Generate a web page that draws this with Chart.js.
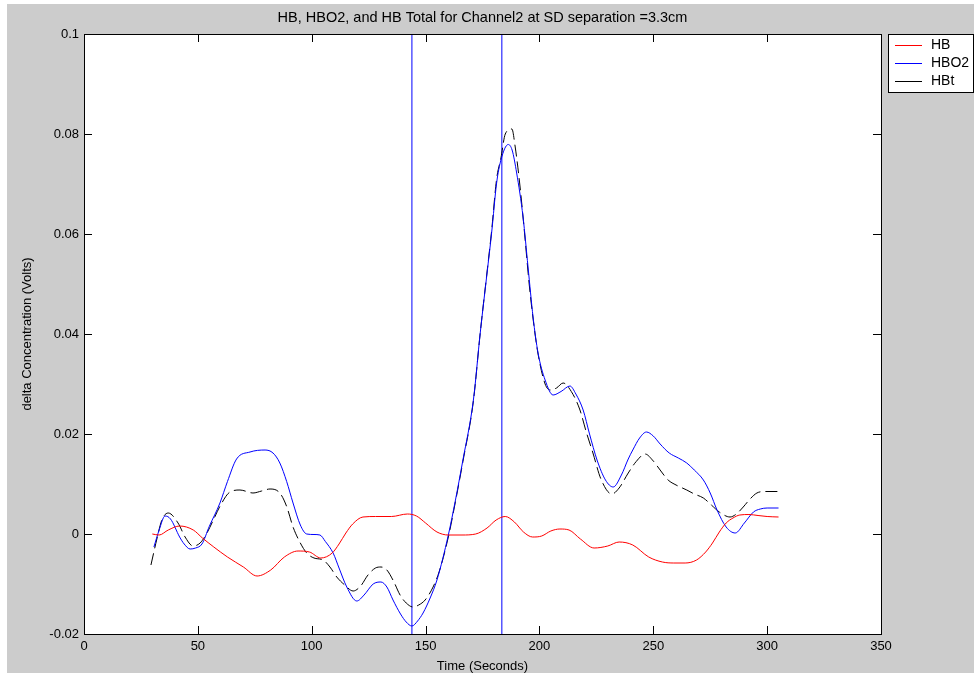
<!DOCTYPE html>
<html>
<head>
<meta charset="utf-8">
<script src="https://cdn.jsdelivr.net/npm/chart.js@4/dist/chart.umd.min.js"></script>
<style>
  body { margin: 0; background: #ffffff; }
  #wrap { width: 974px; height: 673px; }
</style>
</head>
<body>
<div id="wrap"><canvas id="chart" width="974" height="673"></canvas></div>
<script>
// HB (red)
const hbTime = [30, 33, 37, 42, 48, 52, 57, 63, 70, 76, 82, 88, 94, 99, 104, 109, 112, 115, 118, 122.5, 128, 135, 142, 146, 150, 155, 160, 166, 172, 177, 181, 185, 189, 193, 197, 201, 205, 209, 213, 218, 224, 230, 235, 241, 248, 254, 259, 264, 269, 273, 276, 279, 282, 285, 288, 292, 296, 300, 305];
const hbValues = [0.0, -0.0002, 0.0008, 0.0016, 0.0008, -0.0008, -0.0026, -0.0046, -0.0066, -0.0084, -0.0072, -0.0046, -0.0034, -0.0036, -0.0048, -0.0038, -0.0020, 0.0002, 0.0020, 0.0034, 0.0035, 0.0035, 0.0040, 0.0036, 0.0022, 0.0004, -0.0002, -0.0002, 0.0000, 0.0012, 0.0028, 0.0035, 0.0024, 0.0004, -0.0006, -0.0004, 0.0006, 0.0010, 0.0008, -0.0010, -0.0028, -0.0024, -0.0016, -0.0022, -0.0046, -0.0056, -0.0058, -0.0058, -0.0052, -0.0036, -0.0018, 0.0004, 0.0022, 0.0032, 0.0038, 0.0039, 0.0037, 0.0035, 0.0034];

// HBO2 (blue)
const hbo2Time = [30.7, 33, 35.6, 38, 42, 44, 46.6, 49, 51.8, 55, 59.7, 63, 67, 72.9, 79.5, 83, 86, 89, 91.8, 95, 97.8, 101, 103.6, 106, 109.4, 112, 115.4, 119.8, 123, 127, 130.4, 133, 135.7, 139, 141.5, 144, 146.5, 148.9, 152, 155, 160, 163, 166.4, 171, 174, 177, 179, 181.2, 183.1, 186.3, 188, 190, 192.8, 195, 197.2, 199.4, 202.5, 206, 209.5, 213.4, 216, 219.2, 222, 225.3, 229, 232.4, 236, 239, 241, 244, 247, 250, 253, 257, 261, 264.7, 268, 272, 275, 278, 282, 286, 290, 294, 297, 300, 305];
const hbo2Values = [-0.0026, 0.0008, 0.0036, 0.0030, -0.0006, -0.0020, -0.0030, -0.0028, -0.0020, 0.0015, 0.0062, 0.0105, 0.0150, 0.0164, 0.0168, 0.0162, 0.0142, 0.0105, 0.0062, 0.0018, 0.0000, -0.0001, -0.0002, -0.0015, -0.0038, -0.0068, -0.0106, -0.0134, -0.0122, -0.0100, -0.0096, -0.0106, -0.0132, -0.0160, -0.0176, -0.0184, -0.0174, -0.0158, -0.0128, -0.0092, -0.0002, 0.0065, 0.0148, 0.0268, 0.0402, 0.0522, 0.0602, 0.0702, 0.0748, 0.0779, 0.0768, 0.0722, 0.0634, 0.0534, 0.0434, 0.0362, 0.0308, 0.0278, 0.0285, 0.0296, 0.0280, 0.0248, 0.0200, 0.0148, 0.0108, 0.0094, 0.0118, 0.0150, 0.0168, 0.0192, 0.0204, 0.0196, 0.0180, 0.0162, 0.0152, 0.0142, 0.0128, 0.0108, 0.0082, 0.0048, 0.0014, 0.0002, 0.0022, 0.0044, 0.0050, 0.0052, 0.0052];

// HBt (black dashed)
const hbtTime = [29.4, 32, 34.2, 37, 41.3, 44.4, 47.9, 51, 54, 56.8, 60, 64.1, 68.5, 74.2, 78, 81.7, 86, 89, 91.8, 95, 97.8, 101, 105, 108, 111, 114.5, 118.2, 121.5, 124.7, 128, 130.4, 133, 136, 138.8, 141.5, 144.5, 147, 149.8, 153.3, 156, 160, 163, 166.4, 171, 174, 177, 179, 181.2, 183.1, 185, 187.9, 189.3, 191.5, 193.5, 195.5, 197.5, 199.4, 202.5, 204.7, 207.5, 210.4, 214, 217.8, 220.5, 223.5, 227, 231.8, 235, 239, 242.5, 246.4, 250, 253, 256.5, 260, 264.7, 268, 272, 275.5, 279, 283.7, 286.5, 289.5, 292.5, 295.5, 299, 305];
const hbtValues = [-0.0062, -0.0010, 0.0028, 0.0042, 0.0022, -0.0006, -0.0024, -0.0018, 0.0002, 0.0028, 0.0058, 0.0084, 0.0088, 0.0082, 0.0086, 0.0090, 0.0082, 0.0055, 0.0014, -0.0018, -0.0038, -0.0048, -0.0052, -0.0066, -0.0086, -0.0102, -0.0114, -0.0104, -0.0082, -0.0068, -0.0066, -0.0072, -0.0095, -0.0122, -0.0138, -0.0146, -0.0142, -0.0132, -0.0106, -0.0075, -0.0006, 0.0062, 0.0145, 0.0266, 0.0402, 0.0524, 0.0606, 0.0710, 0.0752, 0.0800, 0.0810, 0.0776, 0.0694, 0.0600, 0.0500, 0.0420, 0.0360, 0.0300, 0.0288, 0.0292, 0.0302, 0.0285, 0.0248, 0.0205, 0.0162, 0.0110, 0.0080, 0.0092, 0.0122, 0.0145, 0.0160, 0.0146, 0.0128, 0.0108, 0.0098, 0.0088, 0.0080, 0.0072, 0.0058, 0.0044, 0.0034, 0.0040, 0.0054, 0.0070, 0.0082, 0.0085, 0.0085];

// vertical marker lines
const markerTimes = [144, 183.5];

const xTicks = [0, 50, 100, 150, 200, 250, 300, 350];
const yTicks = [-0.02, 0, 0.02, 0.04, 0.06, 0.08, 0.1];

const legendNames = ["HB", "HBO2", "HBt"];
const legendColors = ["#ff0000", "#0000ff", "#000000"];

const chartTitle = "HB, HBO2, and HB Total for Channel2 at SD separation =3.3cm";

function toPoints(xs, ys) {
  return xs.map((x, i) => ({ x: x, y: ys[i] }));
}

const FONT = "'Liberation Sans', Arial, sans-serif";

const datasets = [
  { label: "HB", data: toPoints(hbTime, hbValues), borderColor: "#ff0000", borderWidth: 1, cubicInterpolationMode: "monotone" },
  { label: "HBO2", data: toPoints(hbo2Time, hbo2Values), borderColor: "#0000ff", borderWidth: 1, cubicInterpolationMode: "monotone" },
  { label: "HBt", data: toPoints(hbtTime, hbtValues), borderColor: "#000000", borderWidth: 1, borderDash: [12, 5], cubicInterpolationMode: "monotone" }
];
markerTimes.forEach(t => {
  datasets.push({ label: "marker", data: [{ x: t, y: yTicks[0] }, { x: t, y: yTicks[yTicks.length - 1] }], borderColor: "#0000ff", borderWidth: 1, tension: 0 });
});

//draws the gray figure, title over the axes, inward ticks, axes box and legend
const matlabFrame = {
  id: "matlabFrame",
  beforeDraw(chart) {
    const { ctx, chartArea: a } = chart;
    ctx.save();
    ctx.fillStyle = "#ffffff";
    ctx.fillRect(0, 0, chart.width, chart.height);
    ctx.fillStyle = "#cccccc";
    ctx.fillRect(7, 4, chart.width, chart.height);
    ctx.fillStyle = "#ffffff";
    ctx.fillRect(a.left, a.top, a.right - a.left, a.bottom - a.top);
    ctx.restore();
  },
  afterDraw(chart) {
    const { ctx, chartArea: a, scales } = chart;
    ctx.save();
    ctx.setLineDash([]);
    ctx.strokeStyle = "#000000";
    ctx.lineWidth = 1;
    ctx.beginPath();
    xTicks.forEach(v => {
      const px = Math.round(scales.x.getPixelForValue(v)) + 0.5;
      ctx.moveTo(px, a.bottom); ctx.lineTo(px, a.bottom - 8);
      ctx.moveTo(px, a.top); ctx.lineTo(px, a.top + 8);
    });
    yTicks.forEach(v => {
      const py = Math.round(scales.y.getPixelForValue(v)) + 0.5;
      ctx.moveTo(a.left, py); ctx.lineTo(a.left + 8, py);
      ctx.moveTo(a.right, py); ctx.lineTo(a.right - 8, py);
    });
    ctx.stroke();
    ctx.strokeRect(a.left + 0.5, a.top + 0.5, a.right - a.left, a.bottom - a.top);

    // title centred over the axes
    ctx.fillStyle = "#000000";
    ctx.font = "14.5px " + FONT;
    ctx.textAlign = "center";
    ctx.textBaseline = "middle";
    ctx.fillText(chartTitle, (a.left + a.right) / 2, 18);

    // legend box
    const lx = 888, ly = 34, lw = 85, lh = 58;
    ctx.fillStyle = "#ffffff";
    ctx.fillRect(lx, ly, lw, lh);
    ctx.strokeRect(lx + 0.5, ly + 0.5, lw, lh);
    ctx.font = "14px " + FONT;
    ctx.textAlign = "left";
    for (let i = 0; i < legendNames.length; i++) {
      const y = ly + 11 + i * 18;
      ctx.fillStyle = legendColors[i];
      ctx.fillRect(895, y, 27, 1);
      ctx.fillStyle = "#000000";
      ctx.fillText(legendNames[i], 931, y + 0.5);
    }
    ctx.restore();
  }
};

new Chart(document.getElementById("chart"), {
  type: "line",
  data: { datasets: datasets },
  options: {
    responsive: false,
    animation: false,
    layout: { padding: { top: 34, right: 93, bottom: 0, left: 0 } },
    elements: { point: { radius: 0 } },
    plugins: {
      legend: { display: false },
      tooltip: { enabled: false },
      title: { display: false }
    },
    scales: {
      x: {
        type: "linear",
        min: 0,
        max: 350,
        afterFit: s => { s.height = 39; },
        afterBuildTicks: s => { s.ticks = xTicks.map(v => ({ value: v })); },
        grid: { drawOnChartArea: false, drawTicks: false },
        border: { display: false },
        ticks: { color: "#000000", padding: 5, font: { family: FONT, size: 13 }, maxRotation: 0 },
        title: { display: true, text: "Time (Seconds)", color: "#000000", font: { family: FONT, size: 13 }, padding: { top: 0, bottom: -1 } }
      },
      y: {
        type: "linear",
        min: -0.02,
        max: 0.1,
        afterFit: s => { s.width = 84; },
        afterBuildTicks: s => { s.ticks = yTicks.map(v => ({ value: v })); },
        grid: { drawOnChartArea: false, drawTicks: false },
        border: { display: false },
        ticks: { color: "#000000", padding: 5, font: { family: FONT, size: 13 }, callback: v => String(+v.toFixed(2)) },
        title: { display: true, text: "delta Concentration (Volts)", color: "#000000", font: { family: FONT, size: 13 }, padding: { top: 20, bottom: 0 } }
      }
    }
  },
  plugins: [matlabFrame]
});
</script>
</body>
</html>
